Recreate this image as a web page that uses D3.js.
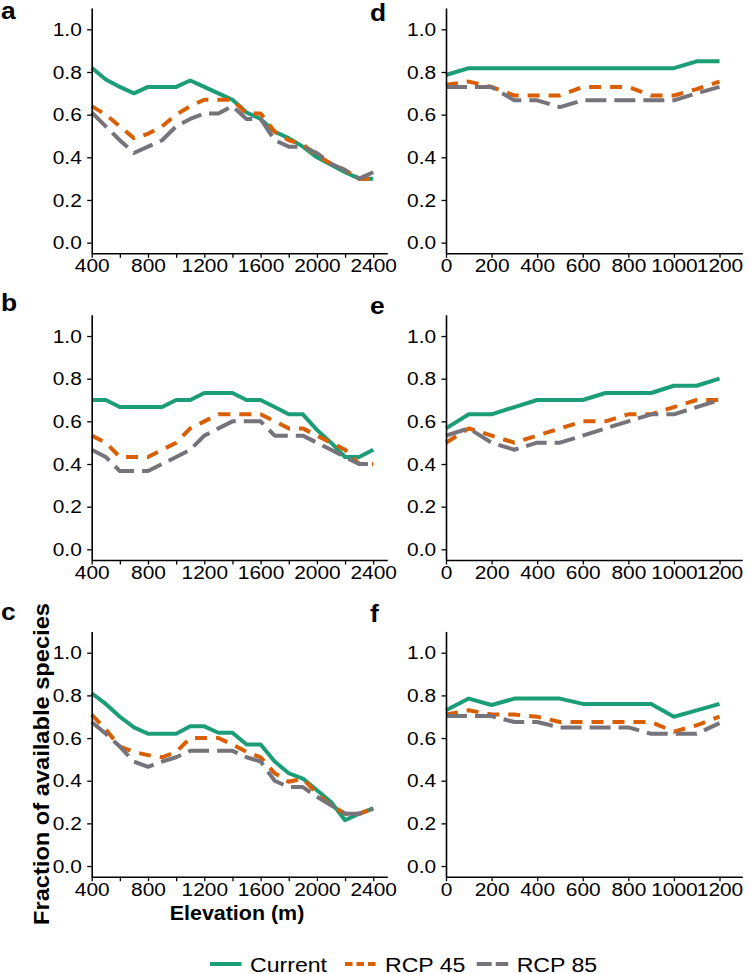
<!DOCTYPE html>
<html>
<head>
<meta charset="utf-8">
<script src="https://cdn.jsdelivr.net/npm/d3@7"></script>
<style>
    body { margin: 0; background: #fff; }
    svg { display: block; font-family: "Liberation Sans", Arial, sans-serif; }
</style>
</head>
<body>
<svg id="chart" width="750" height="974"></svg>
<script>
/* Data */
/* **** */
var elevHigh = [400, 500, 600, 700, 800, 900, 1000, 1100, 1200, 1300, 1400, 1500, 1600, 1700, 1800, 1900, 2000, 2100, 2200, 2300, 2400];
var elevLow = [0, 100, 200, 300, 400, 500, 600, 700, 800, 900, 1000, 1100, 1200];

var ticksHigh = [400, 600, 800, 1000, 1200, 1400, 1600, 1800, 2000, 2200, 2400];
var labelsHigh = [400, 800, 1200, 1600, 2000, 2400];
var ticksLow = [0, 200, 400, 600, 800, 1000, 1200];
var ticksY = [0, 0.2, 0.4, 0.6, 0.8, 1.0];

var seriesNames = ['Current', 'RCP 45', 'RCP 85'];
var seriesColors = ['#1b9e77', '#d95f02', '#77737a'];

// panel a
var aCurrent = [0.82, 0.765, 0.73, 0.70, 0.73, 0.73, 0.73, 0.76, 0.73, 0.70, 0.67, 0.61, 0.58, 0.52, 0.49, 0.45, 0.40, 0.365, 0.33, 0.30, 0.30];
var aRcp45 = [0.64, 0.60, 0.545, 0.49, 0.51, 0.545, 0.60, 0.64, 0.67, 0.67, 0.67, 0.605, 0.605, 0.52, 0.48, 0.46, 0.41, 0.37, 0.34, 0.30, 0.30];
var aRcp85 = [0.61, 0.545, 0.48, 0.42, 0.45, 0.48, 0.545, 0.58, 0.605, 0.605, 0.64, 0.58, 0.58, 0.48, 0.45, 0.45, 0.42, 0.37, 0.34, 0.30, 0.33];

// panel b
var bCurrent = [0.70, 0.70, 0.667, 0.667, 0.667, 0.667, 0.70, 0.70, 0.733, 0.733, 0.733, 0.70, 0.70, 0.667, 0.633, 0.633, 0.56, 0.50, 0.433, 0.433, 0.467];
var bRcp45 = [0.533, 0.50, 0.433, 0.433, 0.433, 0.467, 0.50, 0.567, 0.60, 0.633, 0.633, 0.633, 0.633, 0.60, 0.567, 0.567, 0.533, 0.50, 0.467, 0.40, 0.40];
var bRcp85 = [0.467, 0.433, 0.367, 0.367, 0.367, 0.40, 0.433, 0.467, 0.533, 0.567, 0.60, 0.60, 0.60, 0.533, 0.533, 0.533, 0.50, 0.467, 0.433, 0.40, 0.40];

// panel c
var cCurrent = [0.81, 0.76, 0.70, 0.65, 0.62, 0.62, 0.62, 0.655, 0.655, 0.625, 0.625, 0.57, 0.57, 0.49, 0.435, 0.41, 0.355, 0.30, 0.215, 0.245, 0.27];
var cRcp45 = [0.71, 0.64, 0.56, 0.535, 0.52, 0.51, 0.535, 0.60, 0.60, 0.60, 0.57, 0.535, 0.51, 0.435, 0.395, 0.41, 0.34, 0.285, 0.245, 0.245, 0.27];
var cRcp85 = [0.675, 0.62, 0.56, 0.49, 0.465, 0.49, 0.51, 0.54, 0.54, 0.54, 0.54, 0.51, 0.49, 0.40, 0.37, 0.37, 0.325, 0.285, 0.245, 0.245, 0.27];

// panel d
var dCurrent = [0.786, 0.818, 0.818, 0.818, 0.818, 0.818, 0.818, 0.818, 0.818, 0.818, 0.818, 0.85, 0.85];
var dRcp45 = [0.74, 0.755, 0.73, 0.69, 0.69, 0.69, 0.73, 0.73, 0.73, 0.69, 0.69, 0.72, 0.755];
var dRcp85 = [0.73, 0.73, 0.73, 0.667, 0.667, 0.635, 0.667, 0.667, 0.667, 0.667, 0.667, 0.70, 0.73];

// panel e
var eCurrent = [0.567, 0.633, 0.633, 0.667, 0.70, 0.70, 0.70, 0.733, 0.733, 0.733, 0.767, 0.767, 0.80];
var eRcp45 = [0.50, 0.567, 0.533, 0.50, 0.533, 0.567, 0.60, 0.60, 0.633, 0.633, 0.667, 0.70, 0.70];
var eRcp85 = [0.533, 0.567, 0.50, 0.467, 0.50, 0.50, 0.533, 0.567, 0.60, 0.633, 0.633, 0.667, 0.70];

// panel f
var fCurrent = [0.73, 0.785, 0.755, 0.785, 0.785, 0.785, 0.76, 0.76, 0.76, 0.76, 0.70, 0.73, 0.76];
var fRcp45 = [0.71, 0.73, 0.71, 0.71, 0.70, 0.675, 0.675, 0.675, 0.675, 0.675, 0.63, 0.66, 0.70];
var fRcp85 = [0.703, 0.703, 0.703, 0.675, 0.675, 0.65, 0.65, 0.65, 0.65, 0.62, 0.62, 0.62, 0.67];

var panels = [
    { id: 'a', col: 0, row: 0, x: elevHigh, series: [aCurrent, aRcp45, aRcp85] },
    { id: 'b', col: 0, row: 1, x: elevHigh, series: [bCurrent, bRcp45, bRcp85] },
    { id: 'c', col: 0, row: 2, x: elevHigh, series: [cCurrent, cRcp45, cRcp85] },
    { id: 'd', col: 1, row: 0, x: elevLow, series: [dCurrent, dRcp45, dRcp85] },
    { id: 'e', col: 1, row: 1, x: elevLow, series: [eCurrent, eRcp45, eRcp85] },
    { id: 'f', col: 1, row: 2, x: elevLow, series: [fCurrent, fRcp45, fRcp85] }
];

/* Layout */
/* ****** */
var colLeft = [91.7, 446];
var colRight = [387.3, 742.3];
var colDomain = [[400, 2500], [0, 1300]];
var rowTop = [8, 314.7, 631.4];
var plotHeight = 245.3;
var labelPos = [[[1, 19], [1, 311], [1, 620]], [[370, 21], [370, 314], [370, 622]]];
var dashes = [null, '12,9', '21,8'];
var stretch = 'scale(1.1,1)';

var svg = d3.select('#chart');

panels.forEach(function (p) {
    var x = d3.scaleLinear()
        .domain(colDomain[p.col])
        .range([colLeft[p.col], colRight[p.col]]);
    var y = d3.scaleLinear()
        .domain([-0.05, 1.1])
        .range([rowTop[p.row] + plotHeight, rowTop[p.row]]);

    var g = svg.append('g').attr('class', 'panel panel-' + p.id);

    // Lines: current first, RCP 85 on top
    var line = d3.line()
        .x(function (d, i) { return x(p.x[i]); })
        .y(function (d) { return y(d); });

    p.series.forEach(function (vals, k) {
        g.append('path')
            .datum(vals)
            .attr('d', line)
            .attr('fill', 'none')
            .attr('stroke', seriesColors[k])
            .attr('stroke-width', 4)
            .attr('stroke-linejoin', 'round')
            .attr('stroke-dasharray', dashes[k]);
    });

    // Axes
    var xAxis = d3.axisBottom(x)
        .tickValues(p.col === 0 ? ticksHigh : ticksLow)
        .tickFormat(function (d) {
            if (p.col === 0 && labelsHigh.indexOf(d) < 0) return '';
            return d;
        })
        .tickSize(4.5)
        .tickSizeOuter(0)
        .tickPadding(1);

    var yAxis = d3.axisLeft(y)
        .tickValues(ticksY)
        .tickFormat(d3.format('.1f'))
        .tickSize(4.5)
        .tickSizeOuter(0)
        .tickPadding(4.5);

    var gx = g.append('g')
        .attr('transform', 'translate(0,' + y.range()[0] + ')')
        .call(xAxis);
    var gy = g.append('g')
        .attr('transform', 'translate(' + x.range()[0] + ',0)')
        .call(yAxis);

    [gx, gy].forEach(function (ax) {
        ax.select('.domain').attr('stroke', '#000').attr('stroke-width', 1.6);
        ax.selectAll('.tick line').attr('stroke', '#000').attr('stroke-width', 1.3);
        ax.selectAll('.tick text')
            .attr('fill', '#000')
            .attr('font-size', 19)
            .attr('font-family', '"Liberation Sans", Arial, sans-serif')
            .attr('transform', stretch);
    });
    gx.selectAll('.tick text').attr('dy', '0.72em');

    // Panel letter
    var lp = labelPos[p.col][p.row];
    svg.append('text')
        .attr('transform', 'translate(' + lp[0] + ',' + lp[1] + ') ' + stretch)
        .attr('font-size', 24)
        .attr('font-weight', 'bold')
        .text(p.id);
});

/* Axis titles */
/* *********** */
svg.append('text')
    .attr('transform', 'translate(49,764) rotate(-90)')
    .attr('text-anchor', 'middle')
    .attr('font-size', 22)
    .attr('font-weight', 'bold')
    .attr('textLength', 322)
    .attr('lengthAdjust', 'spacingAndGlyphs')
    .text('Fraction of available species');

svg.append('text')
    .attr('transform', 'translate(237,920) ' + stretch)
    .attr('text-anchor', 'middle')
    .attr('font-size', 19.5)
    .attr('font-weight', 'bold')
    .text('Elevation (m)');

/* Legend */
/* ****** */
var legendKeys = [210, 345, 476.7];
var legendDash = [null, '7.5,4', '15,4'];
var legend = svg.append('g').attr('class', 'legend');

seriesNames.forEach(function (name, k) {
    legend.append('line')
        .attr('x1', legendKeys[k])
        .attr('x2', legendKeys[k] + 31.5)
        .attr('y1', 964)
        .attr('y2', 964)
        .attr('stroke', seriesColors[k])
        .attr('stroke-width', 4)
        .attr('stroke-dasharray', legendDash[k]);
    legend.append('text')
        .attr('transform', 'translate(' + (legendKeys[k] + 40) + ',971.5) ' + stretch)
        .attr('font-size', 21)
        .text(name);
});
</script>
</body>
</html>
